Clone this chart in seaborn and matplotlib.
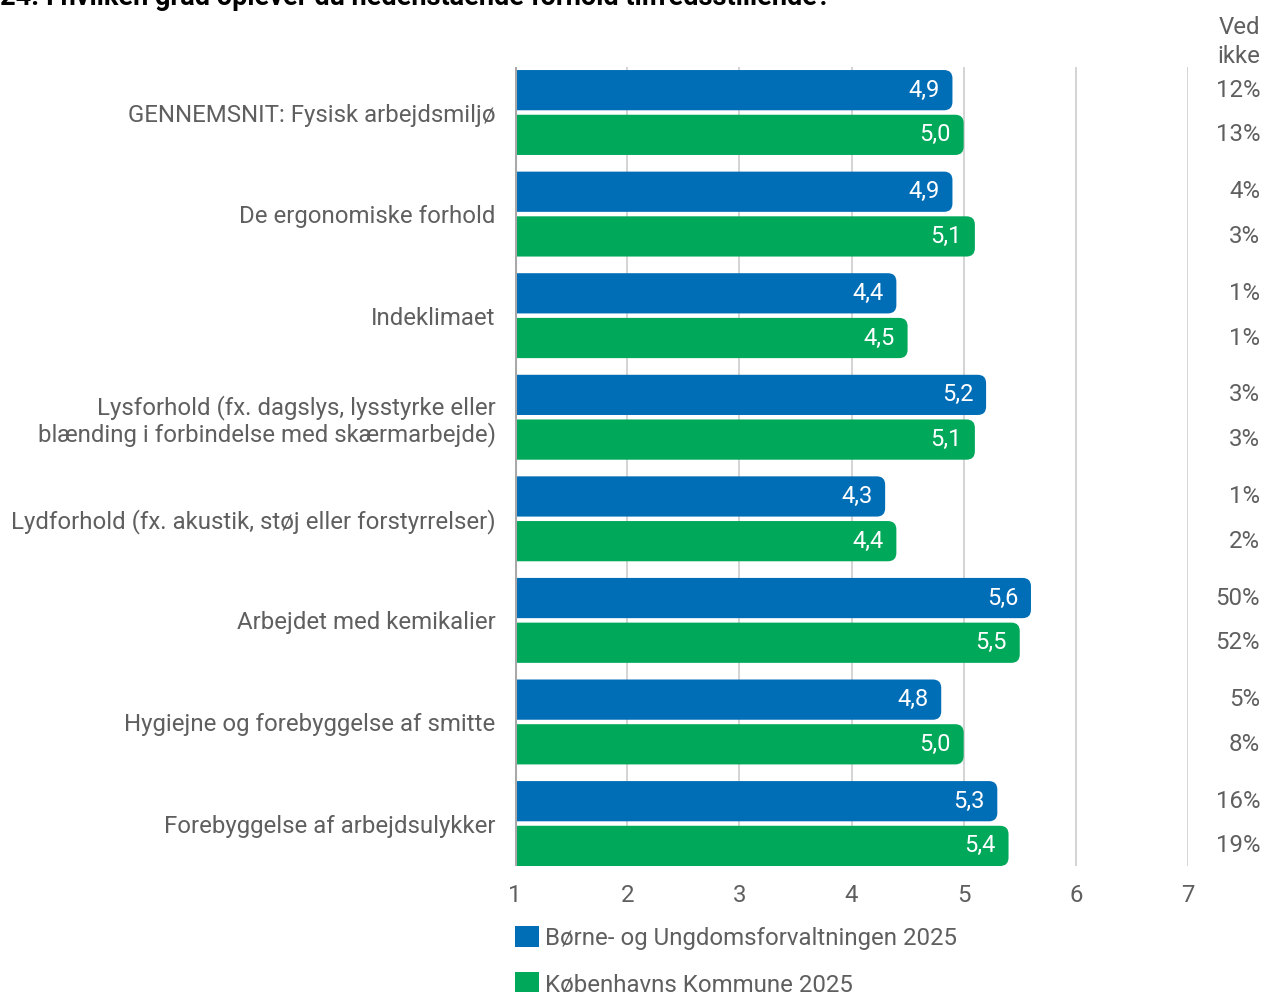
import numpy as np
import pandas as pd
import matplotlib
matplotlib.use("Agg")
import matplotlib.pyplot as plt
import seaborn as sns
from matplotlib.patches import FancyBboxPatch, Patch
from matplotlib.transforms import blended_transform_factory

title = "24. I hvilken grad oplever du nedenstående forhold tilfredsstillende?"
categories = [
    "GENNEMSNIT: Fysisk arbejdsmiljø",
    "De ergonomiske forhold",
    "Indeklimaet",
    "Lysforhold (fx. dagslys, lysstyrke eller\nblænding i forbindelse med skærmarbejde)",
    "Lydforhold (fx. akustik, støj eller forstyrrelser)",
    "Arbejdet med kemikalier",
    "Hygiejne og forebyggelse af smitte",
    "Forebyggelse af arbejdsulykker",
]
series_names = ["Børne- og Ungdomsforvaltningen 2025", "Københavns Kommune 2025"]
buf_values = [4.9, 4.9, 4.4, 5.2, 4.3, 5.6, 4.8, 5.3]
kk_values = [5.0, 5.1, 4.5, 5.1, 4.4, 5.5, 5.0, 5.4]
buf_vedikke = [12, 4, 1, 3, 1, 50, 5, 16]
kk_vedikke = [13, 3, 1, 3, 2, 52, 8, 19]
x_ticks = [1, 2, 3, 4, 5, 6, 7]

colors = ["#006DB7", "#00A85A"]
text_gray = "#5f5f5f"

sns.set_theme(style="white")
plt.rcParams['font.family'] = ['Roboto', 'DejaVu Sans']

df = pd.DataFrame({
    "category": categories * 2,
    "series": [series_names[0]] * len(categories) + [series_names[1]] * len(categories),
    "value": buf_values + kk_values,
})

fig = plt.figure(figsize=(12.65, 9.92), dpi=100)
ax = fig.add_axes([515 / 1265, 1 - 866 / 992, (1188 - 515) / 1265, (866 - 67) / 992])

sns.barplot(data=df, y="category", x="value", hue="series", order=categories,
            hue_order=series_names, palette=colors, orient="h", width=0.88, gap=0.1,
            ax=ax, legend=False, saturation=1)

ax.set_xlim(1, 7)
ax.set_ylim(len(categories) - 1 + 0.418, -0.448)

# Replace rectangles with rounded bars
px_per_x = (1188 - 515) / 6
px_per_y = (866 - 67) / (len(categories) - 1 + 0.418 + 0.448)
vedikke = [buf_vedikke, kk_vedikke]
tr = blended_transform_factory(ax.transAxes, ax.transData)
for si, cont in enumerate(ax.containers):
    for bi, rect in enumerate(cont.patches):
        x0, y0 = rect.get_x(), rect.get_y()
        w, h = rect.get_width(), rect.get_height()
        rect.set_visible(False)
        fb = FancyBboxPatch((x0, y0), w, h,
                            boxstyle="round,pad=0,rounding_size=0.075",
                            mutation_aspect=px_per_x / px_per_y,
                            facecolor=colors[si], edgecolor="none", zorder=3)
        ax.add_patch(fb)
        val = [buf_values, kk_values][si][bi]
        ax.text(x0 + w - 0.115, y0 + h / 2, f"{val:.1f}".replace(".", ","),
                ha="right", va="center", color="white", fontsize=17, zorder=4)
        ax.text(1.107, y0 + h / 2, f"{vedikke[si][bi]}%", transform=tr,
                ha="right", va="center", color=text_gray, fontsize=17.3, clip_on=False)

# Grid lines
for xv in x_ticks[1:]:
    ax.axvline(xv, color="#c9c9c9", lw=1.1, zorder=1)
ax.axvline(1, color="#a8a8a8", lw=2.2, zorder=5)

for s in ax.spines.values():
    s.set_visible(False)
ax.set_xticks(x_ticks)
ax.set_xticklabels([str(t) for t in x_ticks], fontsize=17.3, color=text_gray)
ax.tick_params(axis="x", length=3, color="#c9c9c9", pad=10)
ax.tick_params(axis="y", length=0, pad=14)
for lbl in ax.get_yticklabels():
    lbl.set_fontsize(17.3)
    lbl.set_color(text_gray)
    lbl.set_linespacing(1.1)
ax.set_xlabel("")
ax.set_ylabel("")

# Header
fig.text(1260 / 1265, 1 - 42 / 992, "Ved\nikke", ha="right", va="center",
         fontsize=17.3, color=text_gray, linespacing=1.35)

# Title (partially cut off at top)
fig.text(0, 1 - 5 / 992, title, ha="left", va="baseline", fontsize=19.5,
         fontweight="bold", color="black")

# Legend
handles = [Patch(facecolor=c, edgecolor="none") for c in colors]
leg = ax.legend(handles, series_names, loc="upper left",
                bbox_to_anchor=(-0.015, -0.0625), frameon=False, fontsize=17.3,
                handlelength=1.0, handleheight=1.0, handletextpad=0.25,
                labelspacing=0.95, borderaxespad=0)
for t in leg.get_texts():
    t.set_color(text_gray)

fig.savefig("out.png", dpi=100)
